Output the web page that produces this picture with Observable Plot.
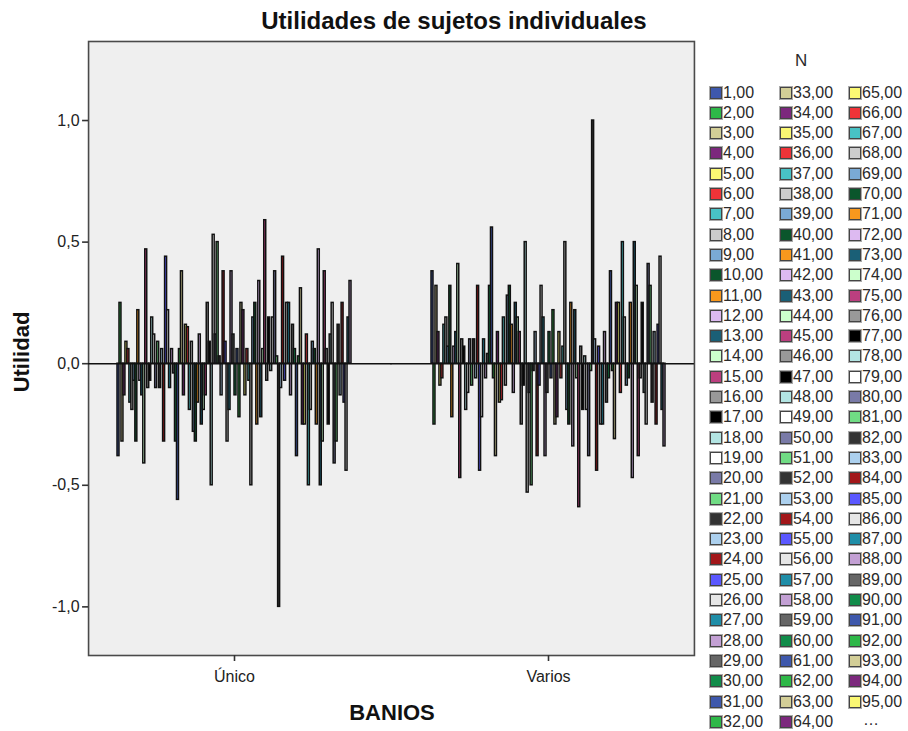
<!DOCTYPE html>
<html><head><meta charset="utf-8">
<script src="https://cdn.jsdelivr.net/npm/d3@7"></script>
<script src="https://cdn.jsdelivr.net/npm/@observablehq/plot@0.6"></script>
<style>
body{margin:0;background:#fff;font-family:"Liberation Sans",Arial,sans-serif;}
#wrap{position:relative;width:908px;height:731px;overflow:hidden;}
#chart{position:absolute;left:0;top:0;}
.t{position:absolute;white-space:nowrap;color:#111;line-height:1;}
.title{font-size:24px;font-weight:bold;left:0;width:908px;text-align:center;top:9px;}
.xl{font-size:22px;font-weight:bold;left:292px;width:200px;text-align:center;top:702px;}
.yl{font-size:22px;font-weight:bold;left:-28px;top:341px;width:100px;text-align:center;transform:rotate(-90deg);}
.lg{position:absolute;font-size:16px;color:#2a2a2a;line-height:1;white-space:nowrap;}
.sw{position:absolute;width:10px;height:10px;border:1px solid #444;box-shadow:0 0 0 1px #aaa;}
</style></head><body>
<div id="wrap">
<div id="chart"></div>
<div class="t title">Utilidades de sujetos individuales</div>
<div class="t xl">BANIOS</div>
<div class="t yl">Utilidad</div>
<div id="legend"></div>
</div>
<script>
const categories = ["Único", "Varios"];
const unico = [
 -0.38, 0.25, -0.32, -0.13, 0.09, 0.06, -0.16, -0.19, -0.07, -0.32,
 0.22, -0.07, -0.13, -0.41, 0.47, -0.10, -0.07, 0.19, 0.12, -0.10,
 0.09, -0.10, 0.06, -0.32, 0.44, 0.22, -0.10, 0.06, -0.04, -0.32,
 -0.56, 0.06, 0.38, -0.13, 0.16, 0.15, -0.19, 0.09, -0.28, -0.32,
 -0.16, 0.12, -0.25, -0.19, -0.13, 0.25, 0.09, -0.50, 0.53, 0.12,
 0.50, 0.03, -0.13, 0.38, 0.09, -0.32,
 -0.19, 0.38, 0.12, -0.13, 0.06, -0.22, 0.25, 0.22, -0.13, 0.06,
 -0.07, -0.50, 0.19, 0.25, -0.25, 0.34, -0.22, 0.06, 0.59, -0.07,
 0.19, -0.03, 0.19, 0.38, 0.03, -1.00, -0.10, 0.44, -0.07, 0.25,
 0.25, -0.13, 0.16, 0.06, -0.38, 0.03, 0.31, -0.25, -0.25, 0.12,
 -0.50, -0.19, 0.09, 0.06, -0.25, 0.47, -0.50, -0.32, 0.38, 0.06,
 -0.25, 0.12, 0.25, -0.41, -0.32, 0.16, -0.13, 0.25, -0.16, -0.44,
 0.19, 0.34
];
const varios = [
 0.38, -0.25, 0.32, 0.13, -0.09, -0.06, 0.16, 0.19, 0.07, 0.32,
 -0.22, 0.07, 0.13, 0.41, -0.47, 0.10, 0.07, -0.19, -0.12, 0.10,
 -0.09, 0.10, -0.06, 0.32, -0.44, -0.22, 0.10, -0.06, 0.04, 0.32,
 0.56, -0.06, -0.38, 0.13, -0.16, -0.15, 0.19, -0.09, 0.28, 0.32,
 0.16, -0.12, 0.25, 0.19, 0.13, -0.25, -0.09, 0.50, -0.53, -0.12,
 -0.50, -0.03, 0.13, -0.38, -0.09, 0.32,
 0.19, -0.38, -0.12, 0.13, -0.06, 0.22, -0.25, -0.22, 0.13, -0.06,
 0.07, 0.50, -0.19, -0.25, 0.25, -0.34, 0.22, -0.06, -0.59, 0.07,
 -0.19, 0.03, -0.19, -0.38, -0.03, 1.00, 0.10, -0.44, 0.07, -0.25,
 -0.25, 0.13, -0.16, -0.06, 0.38, -0.03, -0.31, 0.25, 0.25, -0.12,
 0.50, 0.19, -0.09, -0.06, 0.25, -0.47, 0.50, 0.32, -0.38, -0.06,
 0.25, -0.12, -0.25, 0.41, 0.32, -0.16, 0.13, -0.25, 0.16, 0.44,
 -0.19, -0.34
];
const palette = [
 "#3E58AC","#2EB848","#D3CE97","#7C287D","#FBF873","#EF3338","#48C2C5","#CCCCCC","#7AAAD5","#0A562C",
 "#F8981D","#DDBAF1","#1A5F76","#CCFFCC","#BB3F7F","#999999","#000000","#B3E5E3","#FFFFFF","#797AA7",
 "#70DC84","#333333","#ACD0EE","#A21619","#5B58FF","#E6E6E6","#1F8EA8","#C3A0D4","#666666","#118C4A"
];
const yTicks = [-1, -0.5, 0, 0.5, 1];
const legendShown = 95;

const subjects = d3.range(1, unico.length + 1);
const colorOf = s => palette[(s - 1) % palette.length];
const data = [
  ...unico.map((v, i) => ({cat: categories[0], subj: i + 1, val: v})),
  ...varios.map((v, i) => ({cat: categories[1], subj: i + 1, val: v}))
];
const fmt1 = d => d.toFixed(1).replace(".", ",");

const W = 908, H = 731, mL = 88, mR = 213;
const padIn = 0.254, padOut = 0.092;
const step = (W - mL - mR) / (categories.length - padIn + 2 * padOut);
const outerPx = padOut * step, gapPx = padIn * step;

const plot = Plot.plot({
  width: W, height: H,
  marginTop: 41, marginBottom: 76, marginLeft: mL, marginRight: mR,
  style: {background: "transparent", fontFamily: "Liberation Sans, Arial, sans-serif", fontSize: "16px", color: "#222"},
  fx: {domain: categories, paddingInner: padIn, paddingOuter: padOut, label: null},
  x: {domain: subjects, padding: 0, axis: null},
  y: {domain: [-1.2, 1.325], label: null, axis: null},
  marks: [
    Plot.frame({facet: "super", fill: "#efefef", stroke: "#4a4a4a", strokeWidth: 1.6, insetLeft: -outerPx, insetRight: -outerPx}),
    Plot.barY(data, {fx: "cat", x: "subj", y: "val", fill: d => colorOf(d.subj), stroke: "#111", strokeWidth: 1.5}),
    Plot.ruleY([{cat: categories[0], v: 0}], {fx: "cat", y: "v", stroke: "#111", strokeWidth: 1.5, insetLeft: -outerPx, insetRight: -gapPx / 2 - 0.5}),
    Plot.ruleY([{cat: categories[1], v: 0}], {fx: "cat", y: "v", stroke: "#111", strokeWidth: 1.5, insetLeft: -gapPx / 2 - 0.5, insetRight: -outerPx}),
    Plot.axisY(yTicks, {tickFormat: fmt1, tickSize: 6, tickPadding: 3, dx: -outerPx, stroke: "#333", strokeWidth: 1.6, fontSize: 16}),
    Plot.axisFx({anchor: "bottom", tickSize: 6, tickPadding: 9, label: null, stroke: "#333", strokeWidth: 1.6, fontSize: 16})
  ]
});
document.getElementById("chart").append(plot);

// legend
const lg = document.getElementById("legend");
const addEl = (cls, css, text) => { const e = document.createElement("div"); e.className = cls; Object.assign(e.style, css); if (text != null) e.textContent = text; lg.append(e); return e; };
addEl("lg", {left: "795px", top: "52px", fontSize: "17px"}, "N");
const colX = [710, 780, 849];
const rowY0 = 92.5, rowDy = 20.3, perCol = 32;
subjects.slice(0, legendShown).forEach((s, i) => {
  const c = Math.floor(i / perCol), r = i % perCol;
  const cy = rowY0 + r * rowDy;
  addEl("sw", {left: colX[c] + "px", top: (cy - 6) + "px", background: colorOf(s)});
  addEl("lg", {left: (colX[c] + 13) + "px", top: (cy - 8) + "px"}, s.toFixed(2).replace(".", ","));
});
addEl("lg", {left: (colX[2] + 14) + "px", top: (rowY0 + 31 * rowDy - 10) + "px"}, "…");
</script>
</body></html>
